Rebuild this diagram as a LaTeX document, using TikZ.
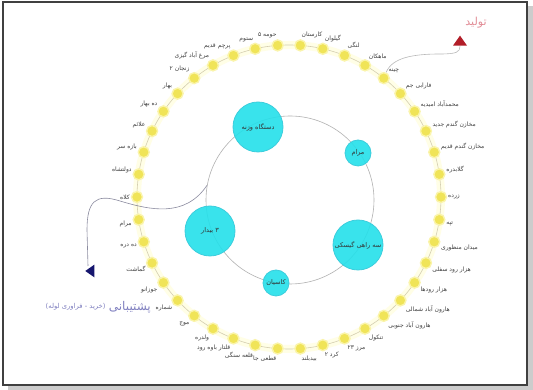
\documentclass[tikz,border=0pt]{standalone}
\usepackage{fontspec}
\usetikzlibrary{shapes.geometric}
\newfontfamily\persfont[Script=Arabic]{DejaVu Sans}
\TeXXeTstate=1
\definecolor{cyanfill}{RGB}{36,224,234}
\definecolor{cyanedge}{RGB}{60,205,220}
\definecolor{ynode}{RGB}{240,228,88}
\definecolor{yhalo}{RGB}{250,244,170}
\definecolor{ringline}{RGB}{212,206,176}
\definecolor{curvegray}{RGB}{140,140,160}
\definecolor{navytri}{RGB}{22,22,110}
\definecolor{redtri}{RGB}{178,30,40}
\definecolor{pinktext}{RGB}{226,140,150}
\definecolor{captext}{RGB}{128,128,192}
\tikzset{
  ringnode/.style={circle, minimum size=11pt, inner sep=0pt, fill=ynode, draw=yhalo, line width=1.4pt},
  ringlabel/.style={font=\persfont\fontsize{6}{7}\selectfont, text=black!75, inner sep=0.5pt, label distance=0.3pt},
  bigc/.style={circle, minimum size=50pt, inner sep=0pt, fill=cyanfill, fill opacity=0.9, text opacity=1, draw=cyanedge, line width=0.8pt, font=\persfont\fontsize{6.5}{8}\selectfont, text=black!80},
  smallc/.style={bigc, minimum size=26pt},
  curveline/.style={draw=curvegray, line width=0.6pt},
  bluetri/.style={isosceles triangle, isosceles triangle apex angle=70, shape border rotate=180, minimum height=9pt, minimum width=9pt, inner sep=0pt, fill=navytri},
  redtri/.style={isosceles triangle, isosceles triangle apex angle=70, shape border rotate=90, minimum height=10pt, minimum width=10pt, inner sep=0pt, fill=redtri}
}
\begin{document}
\begin{tikzpicture}[x=1pt,y=1pt]
\useasboundingbox (0,0) rectangle (533,390);
% frame with shadow
\fill[gray!40] (8,0) rectangle (533,384);
\filldraw[fill=white, draw=black!75, line width=1.2pt] (3,5) rectangle (527,388);
% ring
\draw[yellow!10, line width=8pt] (289,193) circle (152);
\draw[ringline, line width=0.6pt] (289,193) circle (152);
% inner gray circle
\node[draw=gray!60, line width=0.6pt, circle, minimum size=168pt, inner sep=0pt] (gc) at (290,190) {};
% cyan circles
\node[bigc]   (ca) at (258,263) {\beginR دستگاه وزنه\endR};
\node[smallc] (cb) at (358,237) {\beginR مرام\endR};
\node[bigc]   (cc) at (358,145) {\beginR سه راهی گیسکی\endR};
\node[smallc] (cd) at (276,107) {\beginR کاسیان\endR};
\node[bigc]   (ce) at (210,159) {\beginR ۳ بیدار\endR};
% blue curve
\coordinate (btc) at (91,119);
\draw[curveline] (gc.170) .. controls (185,172) and (150,180) .. (120,189) .. controls (95,197) and (87,188) .. (87,160) -- (88,124);
% ring nodes
\begin{scope}[shift={(289,193)}]
\foreach \k/\lbl [evaluate=\k as \ang using \k*360/42] in {
0/زرده, 1/گلابدره, 2/مخازن گندم قدیم, 3/مخازن گندم جدید, 4/محمدآباد امیدیه,
5/فارابی جم, 6/چینه, 7/ماهکان, 8/لنگی, 9/گیلوان, 10/کارستان, 11/حومه ۵,
12/ستوم, 13/پرچم قدیم, 14/مرغ آباد گیزی, 15/زنجان ۲, 16/بهار, 17/ده بهار,
18/علائم, 19/بازه سر, 20/دولتشاه, 21/کلاه, 22/مرام, 23/ده دره, 24/گماشت,
25/جوزانو, 26/شماره, 27/موج, 28/ولدره, 29/قلتار باوه رود, 30/قلعه سنگی,
31/قطعی جا, 32/بیدبلند, 33/کرد ۲, 34/مرز ۲۳, 35/تنکول, 36/هارون آباد جنوبی,
37/هارون آباد شمالی, 38/هزار رودها, 39/هزار رود سفلی, 40/میدان منظوری, 41/تپه}
{
  \node[ringnode, label={[ringlabel]\ang:{\beginR\lbl\endR}}] (n\k) at (\ang:152) {};
}
\end{scope}
\node[bluetri] (bt) at (btc) {};
% red curve to production
\coordinate (rtc) at (460,348);
\draw[curveline, draw=gray!55] (n6) .. controls (392,332) and (412,336) .. (440,336) .. controls (457,336) and (460,338) .. (460,344);
\node[redtri] (rt) at (rtc) {};
\node[font=\persfont\fontsize{11}{13}\selectfont, text=pinktext] (prod) at (476,367) {\beginR تولید\endR};
% caption
\node[font=\persfont\fontsize{12}{14}\selectfont, text=captext, anchor=east, inner sep=0pt] (sup) at (151,83) {\beginR پشتیبانی\endR};
\node[font=\persfont\fontsize{6.8}{8}\selectfont, text=captext, anchor=east, inner sep=0pt] (supsub) at ([xshift=-3pt]sup.west) {\beginR(خرید - فراوری لوله)\endR};
\end{tikzpicture}
\end{document}
